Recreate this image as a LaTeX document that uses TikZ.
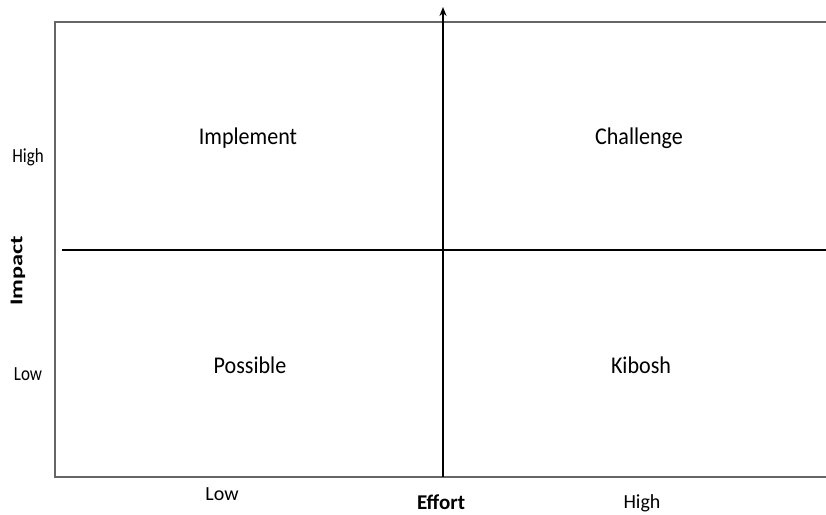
\documentclass[tikz,border=0pt]{standalone}
\usepackage{fontspec}
\setmainfont{Carlito}
\usetikzlibrary{arrows.meta}
\newcommand{\quadtext}[1]{\scalebox{0.92}[1]{\fontsize{24}{24}\selectfont #1}}
\newcommand{\ticktext}[1]{\scalebox{0.85}[1]{\fontsize{20}{20}\selectfont #1}}
\begin{document}
\begin{tikzpicture}[x=1pt,y=-1pt,
  frame/.style={draw=black!60,line width=1.6pt},
  axis/.style={draw=black,line width=2pt},
  quad/.style={inner sep=0pt},
  tick/.style={inner sep=0pt},
  btick/.style={inner sep=0pt,font=\fontsize{20}{20}\selectfont},
  axlabel/.style={inner sep=0pt,font=\fontsize{21}{21}\selectfont\bfseries}]
\useasboundingbox (0,0) rectangle (826,514);
\clip (0,0) rectangle (826,514);
\fill[white] (0,0) rectangle (826,514);
\coordinate (tl) at (55,22);
\coordinate (br) at (840,477);
\draw[frame] (tl) rectangle (br);
\coordinate (hl) at (62,250);
\coordinate (hr) at (830,250);
\draw[axis] (hl) -- (hr);
\coordinate (vb) at (443,477);
\coordinate (vt) at (443,7);
\draw[axis,-{Stealth[length=9pt,width=7pt]}] (vb) -- (vt);
\node[quad] (impl) at (248,138) {\quadtext{Implement}};
\node[quad] (chal) at (639,138) {\quadtext{Challenge}};
\node[quad] (poss) at (250,365) {\quadtext{Possible}};
\node[quad] (kib) at (641,365) {\quadtext{Kibosh}};
\node[tick] (yhigh) at (28,157) {\ticktext{High}};
\node[tick] (ylow) at (28,374) {\ticktext{Low}};
\node[rotate=90] (imp) at (18,271) {\scalebox{1.35}[1]{\fontsize{18}{18}\selectfont\bfseries Impact}};
\node[btick] (xlow) at (222,494) {Low};
\node[axlabel] (eff) at (441,502) {Effort};
\node[btick] (xhigh) at (642,503) {High};
\end{tikzpicture}
\end{document}
